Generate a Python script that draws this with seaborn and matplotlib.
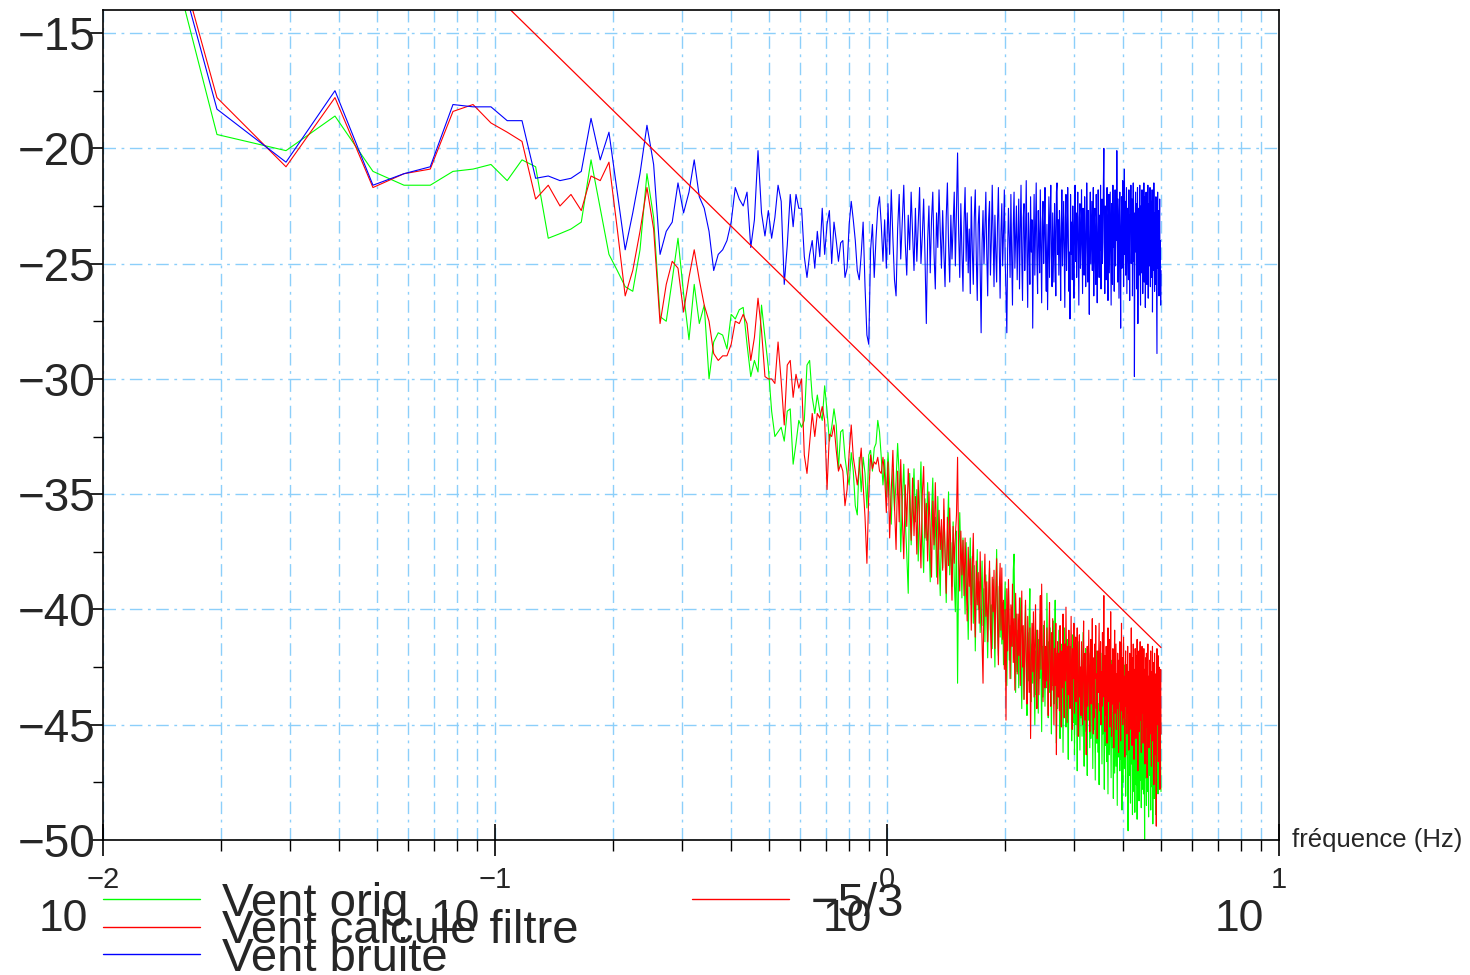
import numpy as np
import pandas as pd
import seaborn as sns
import matplotlib.pyplot as plt
from matplotlib.lines import Line2D
from matplotlib.ticker import MultipleLocator, NullFormatter

# DSP du vent en dB, 1024 echantillons a 10 Hz -> 512 raies (k = 1..512)
vent_orig = [
    0.6, -19.4, -20.1, -18.6, -21.0, -21.6, -21.6, -21.0, -20.9, -20.7,
    -21.4, -20.5, -20.8, -23.9, -23.7, -23.5, -23.2, -20.5, -22.6, -24.6,
    -25.3, -26.0, -26.2, -24.4, -21.1, -23.0, -27.3, -27.5, -25.7, -23.9,
    -26.3, -28.3, -25.9, -27.6, -26.8, -30.0, -28.4, -28.0, -28.1, -28.7,
    -27.2, -27.4, -27.0, -26.9, -28.5, -29.9, -29.2, -29.7, -26.8, -28.2,
    -29.5, -31.4, -32.5, -32.3, -32.1, -32.7, -31.4, -31.3, -33.7, -32.8,
    -31.8, -32.1, -31.8, -29.4, -29.2, -30.8, -31.5, -30.7, -31.4, -31.8,
    -30.3, -31.4, -32.7, -32.1, -31.3, -32.0, -33.9, -32.3, -32.2, -33.4,
    -34.1, -34.6, -33.2, -34.0, -35.5, -35.9, -33.4, -34.9, -33.4, -34.1,
    -35.6, -33.3, -33.1, -34.0, -33.0, -32.8, -31.8, -32.3, -33.4, -34.6,
    -33.5, -35.1, -33.2, -34.6, -36.3, -33.9, -35.7, -34.4, -32.8, -34.2,
    -37.5, -35.4, -33.7, -36.1, -37.6, -39.3, -34.1, -37.2, -35.6, -33.9,
    -36.2, -34.8, -37.9, -35.5, -33.6, -36.7, -38.4, -35.2, -37.0, -34.5,
    -36.9, -38.8, -35.8, -34.3, -37.4, -36.0, -38.6, -35.1, -37.7, -39.4,
    -36.4, -38.2, -35.7, -37.3, -39.7, -36.8, -34.9, -38.5, -37.1, -39.0,
    -36.2, -38.7, -40.1, -36.6, -43.2, -38.0, -35.8, -37.6, -39.5, -36.9,
    -38.3, -40.2, -37.1, -39.0, -41.3, -38.6, -36.9, -39.8, -37.7, -40.6,
    -38.1, -41.8, -39.2, -37.4, -40.0, -38.8, -41.0, -39.5, -37.9, -40.7,
    -39.1, -41.4, -38.5, -40.3, -42.1, -39.6, -38.2, -40.9, -39.8, -41.7,
    -38.7, -40.4, -42.5, -39.3, -37.4, -40.8, -42.0, -39.0, -41.2, -38.9,
    -41.5, -39.7, -42.4, -40.1, -38.8, -41.9, -43.3, -40.5, -39.2, -42.2,
    -40.7, -43.0, -39.9, -41.6, -38.3, -37.6, -41.1, -43.6, -40.2, -42.7,
    -40.9, -43.4, -41.3, -39.5, -42.6, -44.3, -40.8, -42.0, -43.9, -41.2,
    -39.8, -42.8, -44.6, -41.0, -43.1, -40.4, -39.1, -42.3, -44.0, -41.5,
    -43.2, -40.6, -42.9, -45.0, -41.8, -43.7, -40.9, -42.4, -44.5, -41.3,
    -43.0, -40.2, -42.7, -45.3, -41.6, -43.8, -40.7, -42.1, -44.2, -41.9,
    -43.4, -39.3, -42.5, -44.7, -41.4, -43.6, -40.8, -42.9, -45.4, -41.7,
    -43.3, -40.5, -44.1, -42.2, -39.6, -43.8, -45.8, -41.9, -44.3, -42.6,
    -40.9, -43.7, -45.6, -42.3, -44.8, -41.5, -43.1, -46.2, -42.7, -40.8,
    -44.4, -42.0, -45.1, -43.5, -41.3, -44.6, -46.5, -42.8, -43.9, -41.6,
    -44.2, -42.5, -45.7, -43.0, -41.1, -44.9, -42.4, -46.3, -43.6, -41.8,
    -45.0, -43.2, -47.0, -42.6, -44.4, -41.4, -43.8, -46.1, -42.9, -44.7,
    -42.2, -45.5, -43.4, -41.0, -44.6, -46.8, -42.8, -44.0, -41.7, -45.3,
    -43.1, -47.2, -42.5, -44.8, -41.9, -43.9, -46.0, -42.4, -45.6, -43.3,
    -41.6, -44.5, -46.9, -43.0, -45.2, -42.1, -44.7, -47.4, -43.5, -41.8,
    -45.8, -43.7, -42.3, -46.2, -44.1, -47.6, -42.9, -45.0, -43.6, -41.9,
    -44.6, -46.7, -43.2, -45.4, -42.0, -44.9, -47.8, -43.8, -45.9, -42.5,
    -44.3, -46.6, -43.0, -45.7, -48.0, -44.2, -42.7, -46.3, -44.8, -43.4,
    -45.6, -47.3, -43.9, -42.2, -46.0, -44.5, -48.2, -43.6, -45.3, -47.1,
    -42.8, -44.7, -46.8, -43.3, -45.8, -48.5, -44.0, -42.6, -46.4, -45.0,
    -43.7, -47.0, -45.1, -42.9, -46.5, -44.4, -48.7, -43.8, -45.9, -47.5,
    -44.1, -42.4, -46.9, -45.2, -43.5, -48.1, -44.8, -46.3, -43.1, -45.7,
    -47.7, -49.6, -44.6, -46.1, -43.2, -47.2, -45.4, -48.4, -44.0, -46.7,
    -42.9, -45.5, -48.9, -44.3, -46.6, -43.7, -47.9, -45.0, -48.8, -44.5,
    -46.2, -43.4, -47.6, -45.3, -49.1, -44.7, -46.8, -42.8, -45.8, -48.3,
    -44.2, -46.9, -43.6, -47.4, -45.1, -48.6, -44.9, -46.0, -43.3, -47.8,
    -45.5, -48.0, -44.4, -46.5, -50.0, -45.7, -43.5, -47.3, -45.0, -48.5,
    -44.6, -46.3, -43.9, -47.9, -45.4, -49.0, -44.8, -46.9, -43.7, -47.2,
    -45.9, -48.7, -44.3, -46.4, -43.1, -47.7, -45.2, -49.3, -44.5, -46.6,
    -43.8, -48.2, -45.6, -47.0, -44.0, -46.8, -48.9, -44.7, -45.8, -43.6,
    -47.4, -45.1, -48.0, -44.2, -46.3, -43.9, -47.8, -45.5, -44.6, -42.8,
    -46.7, -47.9,
]

vent_filtre = [
    0.7, -17.8, -20.8, -17.8, -21.7, -21.1, -20.9, -18.4, -18.1, -18.9,
    -19.3, -19.7, -22.2, -21.6, -22.5, -22.0, -22.7, -21.2, -21.4, -20.6,
    -23.5, -26.4, -25.3, -23.6, -21.7, -23.5, -27.6, -25.9, -24.9, -25.2,
    -27.1, -25.6, -24.4, -25.7, -26.8, -27.5, -28.9, -29.2, -29.0, -29.0,
    -28.5, -27.5, -27.6, -27.2, -27.6, -29.2, -28.2, -26.5, -27.9, -29.9,
    -30.0, -30.0, -30.2, -28.4, -30.1, -32.0, -29.4, -29.2, -30.8, -29.8,
    -30.4, -30.0, -33.3, -34.1, -32.8, -31.5, -32.5, -31.5, -31.7, -31.2,
    -31.8, -34.8, -32.4, -32.5, -32.0, -33.1, -34.0, -33.7, -34.0, -35.5,
    -34.8, -33.2, -32.0, -33.4, -34.0, -34.6, -33.9, -33.0, -34.6, -36.0,
    -38.0, -35.0, -33.3, -33.9, -33.6, -33.7, -33.4, -34.0, -34.1, -33.4,
    -34.2, -35.8, -33.6, -36.9, -34.8, -33.1, -35.5, -37.4, -34.0, -36.2,
    -33.5, -35.9, -37.8, -34.6, -36.4, -33.9, -35.2, -37.0, -34.3, -36.8,
    -35.1, -37.6, -34.4, -36.3, -38.2, -35.0, -33.8, -36.9, -35.4, -37.9,
    -34.9, -36.6, -38.6, -35.3, -37.2, -34.5, -36.8, -38.9, -35.7, -37.4,
    -36.1, -38.3, -35.2, -37.7, -39.3, -36.0, -38.1, -35.6, -37.5, -39.6,
    -36.4, -38.0, -36.8, -35.9, -33.4, -37.9, -39.2, -36.6, -38.5, -37.0,
    -39.4, -36.9, -38.6, -40.5, -37.3, -39.0, -37.8, -40.9, -38.2, -36.7,
    -39.5, -41.2, -37.9, -39.8, -38.4, -40.6, -37.5, -39.7, -41.5, -43.2,
    -39.1, -37.6, -40.3, -38.8, -41.4, -39.5, -37.9, -40.8, -42.1, -38.6,
    -40.1, -38.3, -41.7, -39.4, -37.8, -40.6, -42.4, -39.2, -38.0, -40.9,
    -38.2, -41.3, -39.6, -42.6, -40.0, -44.8, -39.1, -41.8, -38.7, -40.5,
    -43.0, -39.8, -41.6, -38.9, -42.3, -40.4, -43.5, -39.3, -41.1, -42.8,
    -40.2, -42.0, -39.5, -43.3, -41.0, -39.2, -42.5, -40.7, -43.9, -41.4,
    -39.6, -42.2, -44.1, -40.3, -41.9, -43.6, -40.8, -45.6, -42.4, -40.6,
    -42.7, -40.1, -43.8, -41.5, -39.8, -42.9, -44.3, -40.9, -42.1, -43.7,
    -41.2, -39.4, -42.6, -38.9, -41.8, -44.0, -42.3, -40.5, -43.4, -41.6,
    -43.1, -40.8, -42.5, -44.6, -41.3, -39.7, -42.8, -44.2, -41.0, -43.5,
    -40.4, -42.9, -45.0, -41.7, -43.3, -40.6, -46.3, -42.2, -41.4, -43.8,
    -41.9, -44.4, -40.7, -42.6, -45.1, -41.8, -43.4, -40.2, -42.9, -44.7,
    -41.5, -43.1, -39.9, -42.4, -44.9, -41.6, -43.7, -40.9, -42.8, -44.3,
    -42.1, -40.3, -43.6, -45.2, -41.7, -43.0, -40.6, -44.5, -42.3, -41.2,
    -44.0, -42.7, -40.8, -43.9, -45.5, -42.0, -41.1, -43.8, -42.5, -44.6,
    -41.4, -43.2, -45.0, -42.2, -40.5, -43.7, -44.8, -41.9, -42.9, -46.3,
    -43.4, -41.6, -44.2, -42.4, -40.9, -43.5, -45.3, -42.0, -41.3, -44.1,
    -42.6, -40.4, -43.9, -45.4, -42.1, -44.7, -41.5, -43.0, -40.7, -44.3,
    -42.8, -45.6, -41.8, -43.6, -42.2, -40.6, -44.4, -43.1, -41.4, -45.0,
    -42.7, -44.2, -41.0, -43.8, -42.3, -39.4, -43.5, -45.3, -42.0, -44.6,
    -41.6, -43.2, -45.8, -42.5, -40.8, -44.0, -42.9, -41.3, -45.1, -43.4,
    -40.1, -43.7, -45.5, -42.4, -44.1, -41.7, -43.3, -46.0, -42.6, -40.9,
    -44.5, -43.0, -41.5, -45.2, -42.8, -44.3, -41.9, -43.6, -46.2, -42.2,
    -44.0, -41.4, -43.9, -45.7, -42.5, -40.6, -44.4, -42.1, -45.0, -43.3,
    -41.2, -44.7, -42.9, -46.4, -43.0, -41.8, -44.2, -42.4, -45.4, -43.7,
    -41.6, -44.5, -42.7, -46.1, -43.4, -41.9, -45.2, -42.3, -44.0, -40.8,
    -43.8, -45.9, -42.1, -44.3, -41.5, -43.6, -46.5, -42.6, -44.9, -41.7,
    -43.5, -45.6, -42.0, -44.6, -41.3, -43.9, -47.0, -42.8, -44.1, -41.8,
    -45.3, -43.2, -41.4, -44.8, -42.5, -46.2, -43.0, -41.6, -44.5, -42.4,
    -45.8, -43.3, -41.7, -44.9, -42.6, -46.7, -43.6, -42.1, -45.1, -41.9,
    -44.2, -47.3, -43.1, -41.5, -44.7, -42.9, -46.0, -43.8, -42.2, -45.4,
    -43.0, -41.8, -44.6, -46.8, -42.7, -44.0, -41.6, -45.7, -43.5, -42.3,
    -47.6, -44.4, -41.9, -43.7, -46.3, -42.8, -44.9, -49.4, -43.2, -41.7,
    -45.0, -43.6, -42.0, -46.6, -44.2, -42.5, -45.3, -43.1, -47.8, -44.0,
    -42.6, -45.4,
]

vent_bruite = [
    0.6, -18.3, -20.6, -17.5, -21.6, -21.1, -20.8, -18.1, -18.2, -18.2,
    -18.8, -18.8, -21.3, -21.2, -21.4, -21.3, -21.0, -18.7, -20.5, -19.3,
    -21.9, -24.4, -22.8, -21.1, -19.0, -20.7, -24.6, -23.6, -23.2, -21.5,
    -22.8, -21.9, -20.5, -22.1, -22.6, -23.6, -25.3, -24.6, -24.4, -24.0,
    -23.2, -21.7, -22.2, -22.5, -21.9, -24.3, -23.1, -20.1, -22.8, -23.8,
    -22.7, -23.9, -23.0, -21.6, -22.3, -25.9, -24.2, -22.0, -23.4, -22.0,
    -22.6, -22.6, -24.7, -25.6, -24.6, -24.0, -25.2, -23.6, -24.7, -22.6,
    -24.6, -23.3, -22.7, -25.0, -23.2, -24.0, -24.9, -24.1, -24.0, -25.6,
    -25.2, -23.3, -22.3, -23.1, -24.0, -25.3, -25.7, -24.6, -23.2, -26.0,
    -28.1, -28.5, -24.4, -23.3, -25.6, -23.9, -22.6, -22.1, -23.3, -24.9,
    -23.1, -25.2, -22.4, -24.6, -21.8, -23.9, -25.7, -26.4, -23.5, -22.0,
    -24.8, -23.2, -21.6, -24.1, -25.5, -22.9, -24.4, -21.9, -23.7, -25.3,
    -22.6, -24.9, -23.3, -21.7, -25.0, -23.8, -22.2, -24.7, -27.6, -24.0,
    -22.5, -25.4, -23.1, -21.9, -24.6, -26.1, -22.8, -24.3, -21.8, -23.6,
    -25.2, -22.7, -24.5, -26.0, -23.0, -21.5, -24.2, -25.8, -22.9, -24.8,
    -23.4, -21.9, -25.1, -22.6, -20.2, -23.7, -25.6, -22.4, -24.5, -26.2,
    -23.2, -21.7, -24.9, -22.8, -25.4, -23.5, -26.3, -22.1, -24.4, -25.9,
    -23.0, -21.8, -24.7, -26.6, -23.3, -22.5, -25.2, -28.0, -24.1, -22.7,
    -25.0, -23.4, -21.9, -24.6, -26.4, -23.1, -22.3, -25.5, -24.0, -21.6,
    -23.8, -26.0, -22.9, -24.5, -25.8, -23.2, -21.7, -24.3, -26.5, -23.6,
    -22.4, -25.1, -23.7, -21.8, -24.9, -26.2, -28.0, -24.4, -22.6, -23.9,
    -25.6, -22.0, -24.7, -26.8, -23.3, -21.9, -25.2, -23.8, -22.5, -25.7,
    -24.0, -22.2, -26.1, -23.5, -21.6, -24.8, -26.6, -23.0, -22.4, -25.3,
    -23.9, -21.4, -24.6, -26.9, -22.8, -24.2, -25.9, -22.1, -24.5, -23.1,
    -27.8, -24.3, -22.0, -25.5, -23.4, -21.5, -24.8, -26.3, -22.7, -23.9,
    -25.4, -21.8, -24.1, -26.7, -23.2, -22.3, -25.0, -23.6, -21.7, -24.9,
    -26.2, -23.3, -27.0, -24.4, -22.1, -25.6, -23.0, -21.6, -24.7, -26.0,
    -22.8, -24.2, -25.8, -22.4, -23.9, -26.4, -21.9, -21.5, -24.6, -23.1,
    -25.5, -22.7, -24.0, -26.6, -23.4, -21.8, -25.1, -23.7, -22.3, -24.8,
    -26.9, -23.0, -22.0, -25.3, -24.1, -21.7, -23.6, -26.2, -24.5, -27.4,
    -22.0, -24.6, -23.2, -25.7, -22.5, -24.0, -26.5, -23.3, -21.6, -24.9,
    -22.8, -25.6, -23.5, -21.9, -24.4, -26.8, -23.0, -22.4, -25.2, -24.1,
    -21.8, -23.9, -26.3, -22.6, -24.7, -25.5, -22.1, -23.6, -26.0, -24.3,
    -21.5, -23.1, -25.8, -22.7, -24.5, -27.2, -23.4, -21.9, -25.0, -23.7,
    -22.3, -25.3, -24.0, -21.7, -26.4, -23.2, -22.6, -24.8, -25.9, -22.0,
    -23.8, -26.7, -24.2, -21.8, -23.5, -25.6, -22.9, -24.4, -21.6, -26.1,
    -23.6, -22.2, -25.0, -24.1, -21.5, -20.0, -23.4, -26.3, -22.5, -24.6,
    -25.7, -22.8, -21.7, -24.9, -26.6, -23.1, -22.0, -25.4, -23.8, -21.9,
    -24.7, -26.8, -22.4, -23.5, -25.9, -21.6, -24.3, -22.9, -26.2, -23.7,
    -21.8, -25.1, -22.6, -24.0, -20.1, -23.3, -25.8, -22.2, -24.5, -26.5,
    -22.7, -21.9, -24.8, -27.8, -23.6, -22.1, -25.2, -24.0, -21.4, -23.2,
    -26.0, -22.5, -20.9, -24.6, -22.3, -25.5, -23.8, -21.7, -26.3, -24.2,
    -22.6, -23.9, -25.7, -21.8, -24.4, -26.6, -22.9, -23.5, -21.6, -25.0,
    -24.1, -22.2, -26.4, -23.7, -21.5, -24.9, -22.8, -29.9, -25.3, -23.0,
    -21.9, -24.5, -22.4, -26.1, -23.3, -21.7, -27.6, -24.0, -22.6, -25.5,
    -23.8, -21.6, -24.7, -26.8, -22.5, -23.9, -25.4, -21.8, -24.2, -26.3,
    -22.9, -24.6, -21.5, -25.8, -23.4, -22.1, -26.9, -24.3, -21.9, -23.6,
    -25.9, -22.7, -24.8, -21.6, -26.5, -23.2, -22.4, -25.1, -24.0, -21.7,
    -26.0, -23.5, -22.3, -25.6, -24.2, -21.8, -27.1, -23.9, -22.6, -25.3,
    -21.5, -24.7, -26.2, -22.8, -23.6, -25.9, -22.1, -24.4, -26.7, -28.9,
    -23.3, -21.9, -25.2, -24.5, -22.7, -26.4, -23.8, -22.2, -25.5, -24.0,
    -26.8, -25.3,
]

# droite de pente -5/3 : ses deux extremites
pente_freq = [0.009766, 5.0]
pente_db = [3.5, -41.65]

series = ['Vent orig', 'Vent calcule filtre', 'Vent bruite']
couleurs = ['#00ff00', '#ff0000', '#0000ff']
xticks = [0.01, 0.1, 1, 10]
xtick_exp = ['\u22122', '\u22121', '0', '1']
yticks = [-50, -45, -40, -35, -30, -25, -20, -15]

# grille de frequences de la FFT (sans la composante continue)
freq = np.fft.rfftfreq(1024, d=0.1)[1:]

df = pd.DataFrame({
    'freq': np.tile(freq, 3),
    'dsp': vent_orig + vent_filtre + vent_bruite,
    'serie': np.repeat(series, len(freq)),
})

sns.set_style('ticks')
plt.rcParams['font.family'] = ['Liberation Sans', 'DejaVu Sans']

fig = plt.figure(figsize=(14.7, 9.75), dpi=100)
ax = fig.add_axes([103 / 1470, 135 / 975, 1176 / 1470, 830 / 975])
ax.set_xscale('log')

sns.lineplot(data=df, x='freq', y='dsp', hue='serie', hue_order=series,
             palette=couleurs, estimator=None, lw=0.8, legend=False, ax=ax)
sns.lineplot(x=pente_freq, y=pente_db, color='#ff0000', lw=0.9, ax=ax)

ax.set_xlim(0.01, 10)
ax.set_ylim(-50, -14)

grid_style = dict(color='#8ccffa', lw=1, ls=(0, (9, 4, 2, 4)))
ax.set_axisbelow(True)
ax.grid(True, which='both', axis='x', **grid_style)
ax.grid(True, which='major', axis='y', **grid_style)

for s in ax.spines.values():
    s.set_color('black')
    s.set_linewidth(1.2)

ax.set_xticks(xticks)
ax.set_xticklabels(xtick_exp, fontsize=21)
ax.xaxis.set_minor_formatter(NullFormatter())
ax.tick_params(axis='x', which='major', direction='inout', length=23,
               width=1.2, pad=7.5, bottom=True, color='black')
ax.tick_params(axis='x', which='minor', direction='out', length=8,
               width=1, bottom=True, color='black')

ax.set_yticks(yticks)
ax.yaxis.set_minor_locator(MultipleLocator(2.5))
ax.tick_params(axis='y', which='major', direction='out', length=9.4,
               width=1.2, pad=-4, labelsize=33, left=True, color='black')
ax.tick_params(axis='y', which='minor', direction='out', length=7.2,
               width=1, left=True, color='black')
ax.set_ylabel('')

# base "10" des etiquettes en puissance
for t in xticks:
    ax.annotate('10', xy=(t, 0), xycoords=('data', 'axes fraction'),
                xytext=(-11, -57), textcoords='offset points',
                ha='right', va='center', fontsize=32, annotation_clip=False)

ax.set_xlabel('fréquence (Hz)', fontsize=18.5, ha='left', va='center')
ax.xaxis.set_label_coords(1.011, 0)

leg_style = dict(loc='upper left', frameon=False, fontsize=34,
                 handlelength=2.06, handletextpad=0.45, labelspacing=-0.35,
                 borderpad=0, borderaxespad=0)
h = [Line2D([], [], color=c, lw=1) for c in couleurs]
fig.legend(h, series, bbox_to_anchor=(103 / 1470, 1 - 882 / 975), **leg_style)
fig.legend([Line2D([], [], color='#ff0000', lw=1)], ['\u22125/3'],
           bbox_to_anchor=(692 / 1470, 1 - 882 / 975), **leg_style)

fig.savefig('out.png', dpi=100)
